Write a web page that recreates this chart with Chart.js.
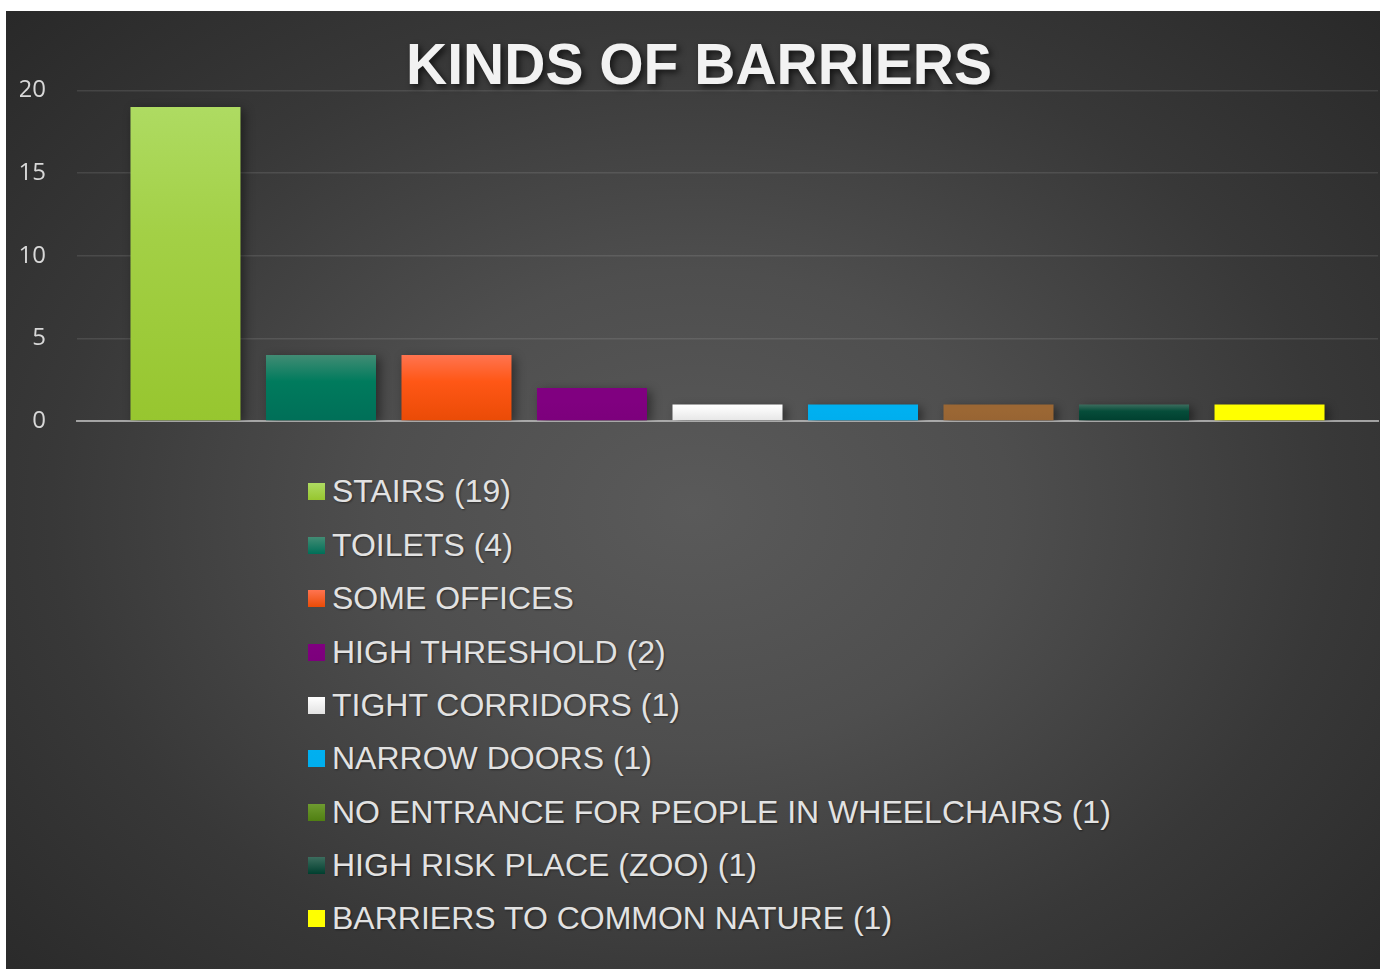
<!DOCTYPE html>
<html>
<head>
<meta charset="utf-8">
<script src="https://cdn.jsdelivr.net/npm/chart.js@4.4.1/dist/chart.umd.min.js"></script>
<style>
html,body{margin:0;padding:0;background:#fff;width:1380px;height:969px;overflow:hidden;}
#panel{position:absolute;left:6px;top:11px;width:1374px;height:958px;
  background:radial-gradient(ellipse 72% 78% at 50% 52%, #5a5a5a 0%, #4e4e4e 32%, #383838 65%, #272727 100%);}
#wrap{position:absolute;left:0;top:0;width:1374px;height:440px;}
#legend{position:absolute;left:302px;top:454.3px;margin:0;padding:0;list-style:none;
  font-family:"Liberation Sans",Arial,sans-serif;font-size:32px;color:#e2e2e2;}
#legend li{height:53.375px;display:flex;align-items:center;white-space:nowrap;
  text-shadow:1px 1px 2px rgba(0,0,0,.45);}
#legend .box{width:17px;height:17px;margin-right:7px;flex:none;}
</style>
</head>
<body>
<div id="panel">
  <div id="wrap"><canvas id="c" width="1374" height="440"></canvas></div>
  <ul id="legend"></ul>
</div>
<script>
// ---- data ----
const categories = [
  'STAIRS (19)',
  'TOILETS (4)',
  'SOME OFFICES',
  'HIGH THRESHOLD (2)',
  'TIGHT CORRIDORS (1)',
  'NARROW DOORS (1)',
  'NO ENTRANCE FOR PEOPLE IN WHEELCHAIRS (1)',
  'HIGH RISK PLACE (ZOO) (1)',
  'BARRIERS TO COMMON NATURE (1)'
];
const values = [19, 4, 4, 2, 1, 1, 1, 1, 1];
const yTicks = [0, 5, 10, 15, 20];
const titleText = 'KINDS OF BARRIERS';

// ---- styles ----
const barTop = ['#aedb62', '#428c74', '#ff7450', '#800080', '#ffffff', '#00b0f0', '#9b6734', '#3c6d5e', '#ffff00'];
const barMid = ['#a3d046', '#007b5d', '#ff5716', '#800080', '#f6f6f6', '#00b0f0', '#9b6734', '#064d3a', '#ffff00'];
const barBot = ['#97c62f', '#006f58', '#ea4b06', '#7c007c', '#e6e6e6', '#00aeee', '#976433', '#003f2f', '#ffff00'];
const legendTop = ['#aedb62', '#428c74', '#ff7450', '#800080', '#ffffff', '#00b0f0', '#6e9b30', '#3c6d5e', '#ffff00'];
const legendBot = ['#97c62f', '#006f58', '#ea4b06', '#7c007c', '#e2e2e2', '#00aeee', '#507f12', '#003f2f', '#ffff00'];

function barFill(i) {
  return function (ctx) {
    const chart = ctx.chart;
    if (!chart.chartArea || !chart.scales.y) return barMid[i];
    const ys = chart.scales.y;
    const top = ys.getPixelForValue(values[i]);
    const bot = ys.getPixelForValue(0);
    const g = chart.ctx.createLinearGradient(0, top, 0, bot);
    g.addColorStop(0, barTop[i]);
    g.addColorStop(0.4, barMid[i]);
    g.addColorStop(1, barBot[i]);
    return g;
  };
}

const effects = {
  id: 'effects',
  beforeDraw(chart) {
    const t = chart.titleBlock;
    if (t && !t._shadowPatched) {
      const orig = t.draw.bind(t);
      t.draw = function (a) {
        const c = chart.ctx;
        c.save();
        c.shadowColor = 'rgba(0,0,0,0.65)';
        c.shadowBlur = 6;
        c.shadowOffsetX = 3;
        c.shadowOffsetY = 3;
        orig(a);
        c.restore();
      };
      t._shadowPatched = true;
    }
  },
  beforeDatasetsDraw(chart) {
    const c = chart.ctx;
    c.save();
    c.shadowColor = 'rgba(0,0,0,0.45)';
    c.shadowBlur = 10;
    c.shadowOffsetX = 4;
    c.shadowOffsetY = 3;
  },
  afterDatasetsDraw(chart) {
    chart.ctx.restore();
  }
};

const chart = new Chart(document.getElementById('c'), {
  type: 'bar',
  data: {
    labels: [''],
    datasets: categories.map((name, i) => ({
      label: name,
      data: [values[i]],
      backgroundColor: barFill(i),
      borderWidth: 0,
      categoryPercentage: 0.9374,
      barPercentage: 0.8118
    }))
  },
  options: {
    responsive: false,
    maintainAspectRatio: false,
    animation: false,
    devicePixelRatio: 1,
    layout: { padding: { left: 14, right: 2, top: 0, bottom: 30 } },
    plugins: {
      legend: { display: false },
      tooltip: { enabled: false },
      title: {
        display: true,
        text: titleText,
        color: '#f2f2f2',
        font: { family: '"Liberation Sans", Arial, sans-serif', size: 57, weight: 'bold', lineHeight: 0.8 },
        padding: { top: 34, bottom: 0 }
      }
    },
    scales: {
      x: {
        offset: true,
        z: 1,
        grid: { display: false, drawTicks: false },
        border: { display: true, color: 'rgba(195,195,195,0.75)', width: 2 },
        ticks: { display: false },
        afterFit(s) { s.height = 0; }
      },
      y: {
        min: 0,
        max: 20,
        grid: { color: 'rgba(255,255,255,0.10)', lineWidth: 1.5, drawTicks: false },
        border: { display: false },
        ticks: {
          padding: 31,
          color: '#d8d8d8',
          font: { family: '"Open Sans", sans-serif', size: 24 }
        },
        afterBuildTicks(s) { s.ticks = yTicks.map(v => ({ value: v })); },
        afterFit(s) { s.width = 57; s.paddingTop = 0; s.paddingBottom = 0; }
      }
    }
  },
  plugins: [effects]
});

// HTML legend built from the chart's datasets
const ul = document.getElementById('legend');
chart.data.datasets.forEach((ds, i) => {
  const li = document.createElement('li');
  const box = document.createElement('span');
  box.className = 'box';
  box.style.background = 'linear-gradient(' + legendTop[i] + ',' + legendBot[i] + ')';
  const txt = document.createElement('span');
  txt.textContent = ds.label;
  li.appendChild(box);
  li.appendChild(txt);
  ul.appendChild(li);
});
</script>
</body>
</html>
